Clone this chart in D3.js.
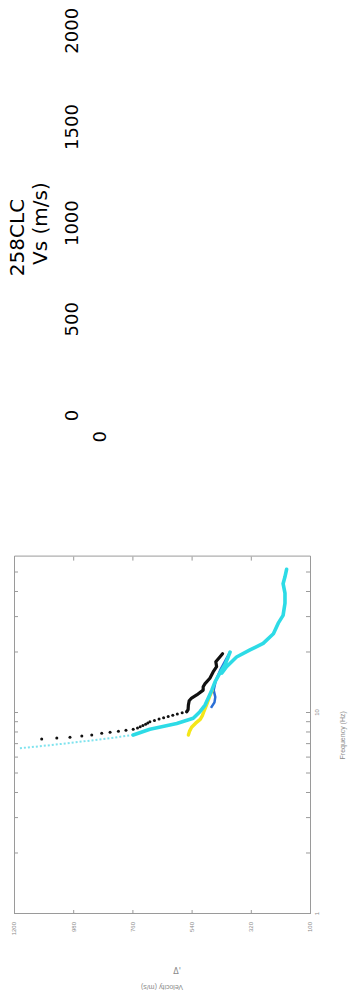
<!DOCTYPE html>
<html>
<head>
<meta charset="utf-8">
<script src="https://cdn.jsdelivr.net/npm/d3@7"></script>
<style>
  body { margin: 0; background: #fff; }
  svg { display: block; }
</style>
</head>
<body>
<script>
(function(){

    //profile axis values
    var vsTicks = [0, 500, 1000, 1500, 2000];
    var depthTicks = [0];

    //dispersion plot axis values
    var velTicks = [100, 320, 540, 760, 980, 1200];
    var freqTicks = [1, 2, 3, 4, 5, 6, 7, 8, 9, 10, 20, 30, 40, 50];
    var freqLabels = [1, 10];

    //black picked points (dots) and black curve
    var blackDotFreq = [7.42, 7.50, 7.58, 7.68, 7.78, 7.92, 8.02, 8.11, 8.21, 8.30, 8.42, 8.54, 8.66, 8.79, 8.92, 9.05, 9.19, 9.33, 9.47, 9.61, 9.75, 9.89, 10.03, 10.15];
    var blackDotVel  = [1097, 1041, 992, 948, 911, 874, 843, 812, 784, 757, 741, 731, 721, 711, 703, 695, 678, 661, 644, 627, 610, 593, 575, 558];
    var blackFreq = [10.15, 10.4, 10.95, 11.5, 11.87, 12.3, 13.0, 13.5, 14.0, 14.9, 16.0, 17.0, 18.0, 19.0, 19.7];
    var blackVel  = [558, 553, 552, 549, 540, 521, 497, 497, 490, 472, 460, 447, 450, 435, 425];

    //cyan curve: faint dotted start then solid
    var cyanDotFreq = [6.68, 6.80, 6.92, 7.05, 7.18, 7.32, 7.46, 7.62, 7.77];
    var cyanDotVel  = [1178, 1120, 1065, 1010, 960, 905, 855, 805, 757];
    var cyanFreq = [7.77, 8.30, 8.87, 9.42, 10.15, 10.95, 11.87, 13.0, 14.3, 15.8, 17.4, 19.0, 20.1, 17.5, 15.8, 17.0, 19.0, 20.6, 22.2, 24.8, 28.0, 30.6, 35.2, 39.5, 44.0, 47.6, 51.9];
    var cyanVel  = [757, 695, 595, 534, 509, 490, 478, 465, 453, 435, 416, 404, 397, 415, 428, 410, 373, 323, 274, 236, 218, 200, 193, 193, 200, 193, 187];

    //blue and yellow curves
    var blueFreq = [10.6, 11.3, 12.0, 13.0, 14.5, 16.5, 18.5, 20.0];
    var blueVel  = [468, 455, 452, 458, 450, 432, 412, 398];
    var yellowFreq = [7.77, 8.1, 8.5, 8.9, 9.3, 9.7, 10.2, 11.0, 12.0, 13.0];
    var yellowVel  = [552, 548, 540, 525, 508, 500, 494, 484, 474, 463];

    var width = 349, height = 1004;

    var svg = d3.select("body")
        .append("svg")
        .attr("width", width)
        .attr("height", height);

    //whole figure is drawn turned a quarter turn
    var page = svg.append("g")
        .attr("transform", "translate(0," + height + ") rotate(-90)");

    //---- Vs profile panel (labels only) ----
    var xScale = d3.scaleLinear()
        .domain([0, 2000])
        .range([588, 972.7]);

    var depthScale = d3.scaleLinear()
        .domain([0, 100])
        .range([100, 340]);

    var xAxis = page.append("g")
        .attr("class", "xAxis")
        .attr("transform", "translate(0,87)")
        .call(d3.axisTop(xScale).tickValues(vsTicks).tickFormat(d3.format("d")));

    var yAxis = page.append("g")
        .attr("class", "yAxis")
        .attr("transform", "translate(582,0)")
        .call(d3.axisLeft(depthScale).tickValues(depthTicks).tickFormat(d3.format("d")));

    [xAxis, yAxis].forEach(function(ax){
        ax.select(".domain").remove();
        ax.selectAll(".tick line").remove();
        ax.attr("font-family", "DejaVu Sans, sans-serif")
            .attr("font-size", 18);
        ax.selectAll("text").attr("fill", "#000");
    });

    page.append("text")
        .attr("x", 766.5)
        .attr("y", 24)
        .attr("text-anchor", "middle")
        .attr("font-family", "DejaVu Sans, sans-serif")
        .attr("font-size", 20)
        .text("258CLC");

    page.append("text")
        .attr("x", (xScale.range()[0] + xScale.range()[1]) / 2)
        .attr("y", 46.5)
        .attr("text-anchor", "middle")
        .attr("font-family", "DejaVu Sans, sans-serif")
        .attr("font-size", 20)
        .text("Vs (m/s)");

    //---- dispersion plot ----
    var fScale = d3.scaleLog()
        .domain([1, 60])
        .range([90, 447.4]);

    var vScale = d3.scaleLinear()
        .domain([100, 1200])
        .range([310, 14]);

    var plot = page.append("g").attr("class", "dispersion");

    var gray = "#9a9a9a";

    function styleAxis(ax){
        ax.select(".domain").attr("stroke", gray);
        ax.selectAll(".tick line").attr("stroke", gray);
        ax.attr("font-family", "Liberation Sans, Arial, sans-serif")
            .attr("font-size", 6);
        ax.selectAll("text").attr("fill", "#8a8a8a");
    }

    var fmtFreq = function(d){ return freqLabels.indexOf(d) >= 0 ? d : ""; };

    styleAxis(plot.append("g")
        .attr("transform", "translate(0," + vScale(100) + ")")
        .call(d3.axisBottom(fScale).tickValues(freqTicks).tickSize(-4).tickSizeOuter(0).tickPadding(5).tickFormat(fmtFreq)));

    styleAxis(plot.append("g")
        .attr("transform", "translate(0," + vScale(1200) + ")")
        .call(d3.axisTop(fScale).tickValues(freqTicks).tickSize(-4).tickSizeOuter(0).tickFormat("")));

    styleAxis(plot.append("g")
        .attr("transform", "translate(" + fScale(1) + ",0)")
        .call(d3.axisLeft(vScale).tickValues(velTicks).tickSize(-4).tickSizeOuter(0).tickPadding(8).tickFormat(d3.format("d"))));

    styleAxis(plot.append("g")
        .attr("transform", "translate(" + fScale(60) + ",0)")
        .call(d3.axisRight(vScale).tickValues(velTicks).tickSize(-4).tickSizeOuter(0).tickFormat("")));

    plot.append("text")
        .attr("x", (fScale(1) + fScale(60)) / 2)
        .attr("y", 345)
        .attr("text-anchor", "middle")
        .attr("font-family", "Liberation Sans, Arial, sans-serif")
        .attr("font-size", 7)
        .attr("fill", "#8a8a8a")
        .text("Frequency (Hz)");

    plot.append("text")
        .attr("transform", "translate(19," + (vScale(100) + vScale(1200)) / 2 + ") rotate(-90)")
        .attr("text-anchor", "middle")
        .attr("font-family", "Liberation Sans, Arial, sans-serif")
        .attr("font-size", 7)
        .attr("fill", "#8a8a8a")
        .text("Velocity (m/s)");

    plot.append("text")
        .attr("transform", "translate(30,177) rotate(90)")
        .attr("text-anchor", "middle")
        .attr("font-family", "DejaVu Sans, sans-serif")
        .attr("font-size", 8)
        .attr("fill", "#8a8a8a")
        .text("Δ'");

    //zip frequency / velocity arrays into points
    function pts(fs, vs){
        return fs.map(function(f, i){ return {f: f, v: vs[i]}; });
    }

    var line = d3.line()
        .x(function(d){ return fScale(d.f); })
        .y(function(d){ return vScale(d.v); });

    //faint dotted start of cyan curve
    plot.append("path")
        .datum(pts(cyanDotFreq, cyanDotVel))
        .attr("d", line)
        .attr("fill", "none")
        .attr("stroke", "#7fe3ee")
        .attr("stroke-width", 2)
        .attr("stroke-dasharray", "2,2");

    plot.append("path")
        .datum(pts(blueFreq, blueVel))
        .attr("d", line)
        .attr("fill", "none")
        .attr("stroke", "#2a6fd6")
        .attr("stroke-width", 2.5)
        .attr("stroke-linejoin", "round");

    plot.append("path")
        .datum(pts(yellowFreq, yellowVel))
        .attr("d", line)
        .attr("fill", "none")
        .attr("stroke", "#f4e619")
        .attr("stroke-width", 3.4)
        .attr("stroke-linejoin", "round")
        .attr("stroke-linecap", "round");

    plot.append("path")
        .datum(pts(cyanFreq, cyanVel))
        .attr("d", line)
        .attr("fill", "none")
        .attr("stroke", "#2ddbe6")
        .attr("stroke-width", 3.6)
        .attr("stroke-linejoin", "round")
        .attr("stroke-linecap", "round");

    plot.append("path")
        .datum(pts(blackFreq, blackVel))
        .attr("d", line)
        .attr("fill", "none")
        .attr("stroke", "#111")
        .attr("stroke-width", 3.2)
        .attr("stroke-linejoin", "round")
        .attr("stroke-linecap", "round");

    plot.selectAll(".blackDot")
        .data(pts(blackDotFreq, blackDotVel))
        .enter()
        .append("circle")
        .attr("class", "blackDot")
        .attr("cx", function(d){ return fScale(d.f); })
        .attr("cy", function(d){ return vScale(d.v); })
        .attr("r", 1.5)
        .attr("fill", "#111");

})();
</script>
</body>
</html>
